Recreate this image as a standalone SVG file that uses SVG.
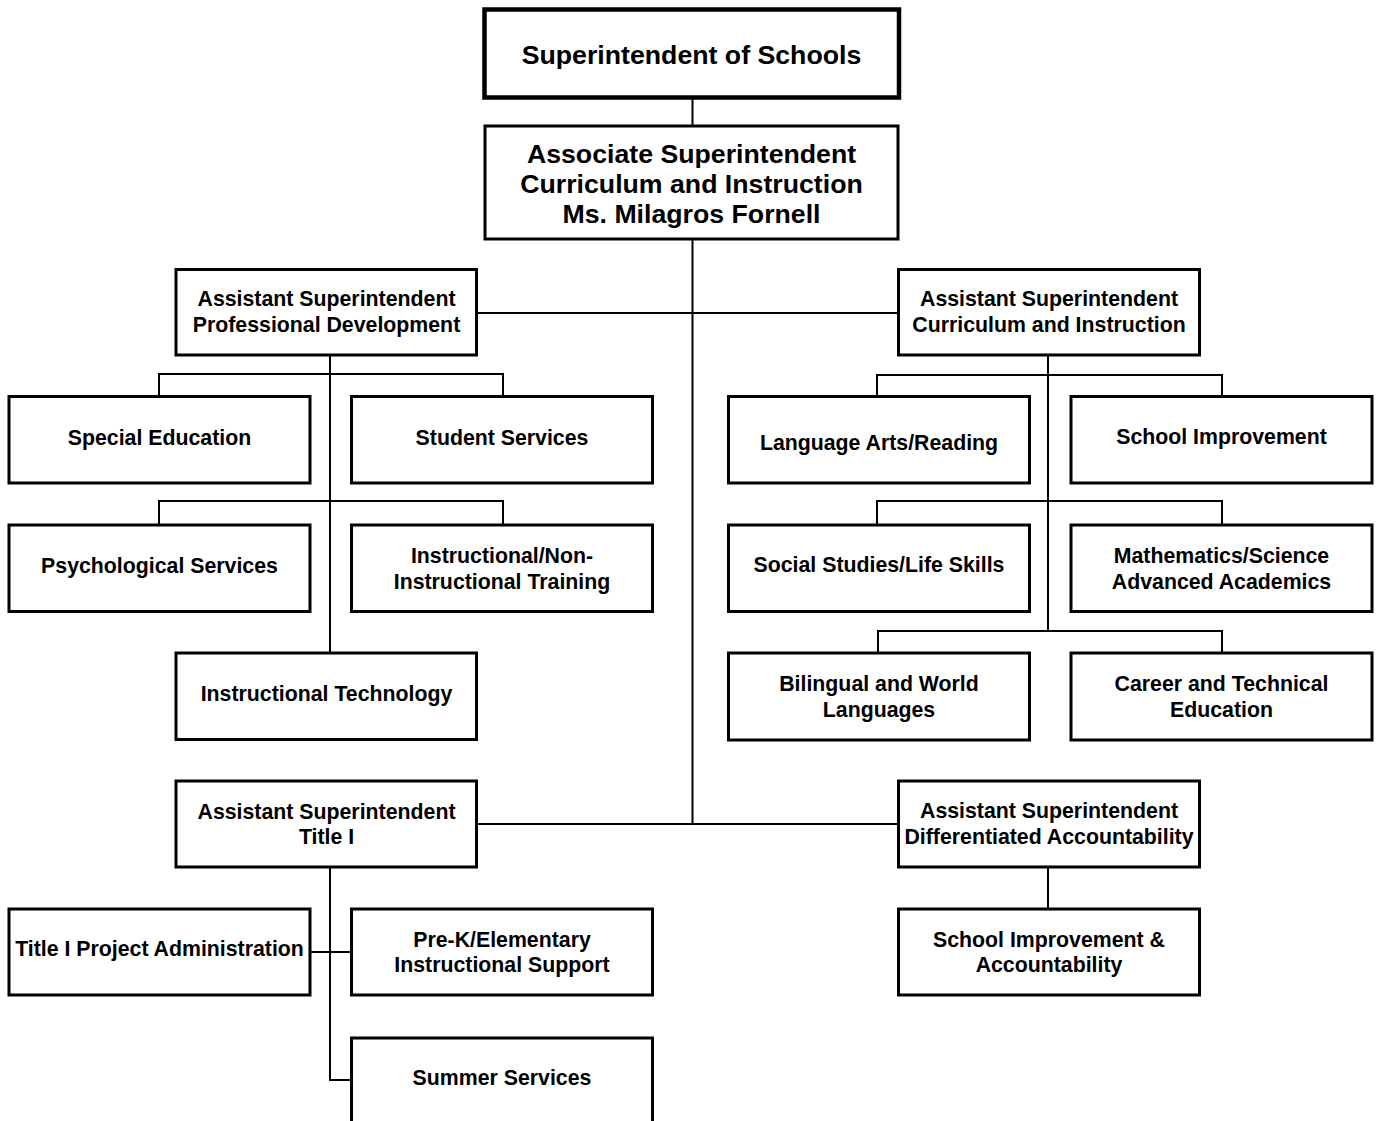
<svg xmlns="http://www.w3.org/2000/svg" width="1383" height="1121" viewBox="0 0 1383 1121">
<style>
.box{fill:#fff;stroke:#000;stroke-width:3}
.top{fill:#fff;stroke:#000;stroke-width:4.5}
.t{font-family:"Liberation Sans",Arial,sans-serif;font-weight:bold;font-size:21.3px;text-anchor:middle;fill:#000}
.big{font-size:26.7px}
.c{fill:none;stroke:#000;stroke-width:2}
</style>
<rect width="1383" height="1121" fill="#fff"/>
<g id="connectors">
<path class="c" d="M692.5 97.5V126M692.5 239V824M476.5 313H898.5M476.5 824H898.5"/>
<path class="c" d="M330 355V653M159 396.5V374H503V396.5M159 525V501H503V525"/>
<path class="c" d="M1048 355V632M877 396.5V375H1222V396.5M877 525V501H1222V525M878 653V631H1222V653"/>
<path class="c" d="M330 867V1080H351.5M310 952H351.5M1048 867V909"/>
</g>
<g id="superintendent"><rect class="top" x="484.5" y="9.5" width="414.5" height="88"/><text class="t big" x="691.5" y="64">Superintendent of Schools</text></g>
<g id="associate"><rect class="box" x="485" y="126" width="413" height="113"/><text class="t big" x="691.5" y="162.5">Associate Superintendent</text><text class="t big" x="691.5" y="192.5">Curriculum and Instruction</text><text class="t big" x="691.5" y="222.5">Ms. Milagros Fornell</text></g>
<g id="asst-pd"><rect class="box" x="176" y="269.5" width="300.5" height="85.5"/><text class="t" x="326.5" y="305.5">Assistant Superintendent</text><text class="t" x="326.5" y="331.5">Professional Development</text></g>
<g id="asst-ci"><rect class="box" x="898.5" y="269.5" width="301" height="85.5"/><text class="t" x="1049" y="305.5">Assistant Superintendent</text><text class="t" x="1049" y="331.5">Curriculum and Instruction</text></g>
<g id="special-ed"><rect class="box" x="9" y="396.5" width="301" height="86.5"/><text class="t" x="159.5" y="444.5">Special Education</text></g>
<g id="student-services"><rect class="box" x="351.5" y="396.5" width="301" height="86.5"/><text class="t" x="502" y="444.5">Student Services</text></g>
<g id="language-arts"><rect class="box" x="728.5" y="396.5" width="301" height="86.5"/><text class="t" x="879" y="449.5">Language Arts/Reading</text></g>
<g id="school-improvement"><rect class="box" x="1071" y="396.5" width="301" height="86.5"/><text class="t" x="1221.5" y="443.5">School Improvement</text></g>
<g id="psych"><rect class="box" x="9" y="525" width="301" height="86.5"/><text class="t" x="159.5" y="572.5">Psychological Services</text></g>
<g id="instr-training"><rect class="box" x="351.5" y="525" width="301" height="86.5"/><text class="t" x="502" y="562.5">Instructional/Non-</text><text class="t" x="502" y="588.5">Instructional Training</text></g>
<g id="social-studies"><rect class="box" x="728.5" y="525" width="301" height="86.5"/><text class="t" x="879" y="571.5">Social Studies/Life Skills</text></g>
<g id="math-science"><rect class="box" x="1071" y="525" width="301" height="86.5"/><text class="t" x="1221.5" y="562.5">Mathematics/Science</text><text class="t" x="1221.5" y="588.5">Advanced Academics</text></g>
<g id="instr-tech"><rect class="box" x="176" y="653" width="300.5" height="86.5"/><text class="t" x="326.5" y="700.5">Instructional Technology</text></g>
<g id="bilingual"><rect class="box" x="728.5" y="653" width="301" height="87"/><text class="t" x="879" y="690.5">Bilingual and World</text><text class="t" x="879" y="716.5">Languages</text></g>
<g id="career"><rect class="box" x="1071" y="653" width="301" height="87"/><text class="t" x="1221.5" y="690.5">Career and Technical</text><text class="t" x="1221.5" y="716.5">Education</text></g>
<g id="asst-title1"><rect class="box" x="176" y="781" width="300.5" height="86"/><text class="t" x="326.5" y="818.5">Assistant Superintendent</text><text class="t" x="326.5" y="843.5">Title I</text></g>
<g id="asst-diff"><rect class="box" x="898.5" y="781" width="301" height="86"/><text class="t" x="1049" y="817.5">Assistant Superintendent</text><text class="t" x="1049" y="843.5">Differentiated Accountability</text></g>
<g id="title1-admin"><rect class="box" x="9" y="909" width="301" height="86"/><text class="t" x="159.5" y="955.5">Title I Project Administration</text></g>
<g id="prek"><rect class="box" x="351.5" y="909" width="301" height="86"/><text class="t" x="502" y="946.5">Pre-K/Elementary</text><text class="t" x="502" y="971.5">Instructional Support</text></g>
<g id="sia"><rect class="box" x="898.5" y="909" width="301" height="86"/><text class="t" x="1049" y="946.5">School Improvement &amp;</text><text class="t" x="1049" y="971.5">Accountability</text></g>
<g id="summer"><rect class="box" x="351.5" y="1038" width="301" height="95"/><text class="t" x="502" y="1084.5">Summer Services</text></g>
</svg>
